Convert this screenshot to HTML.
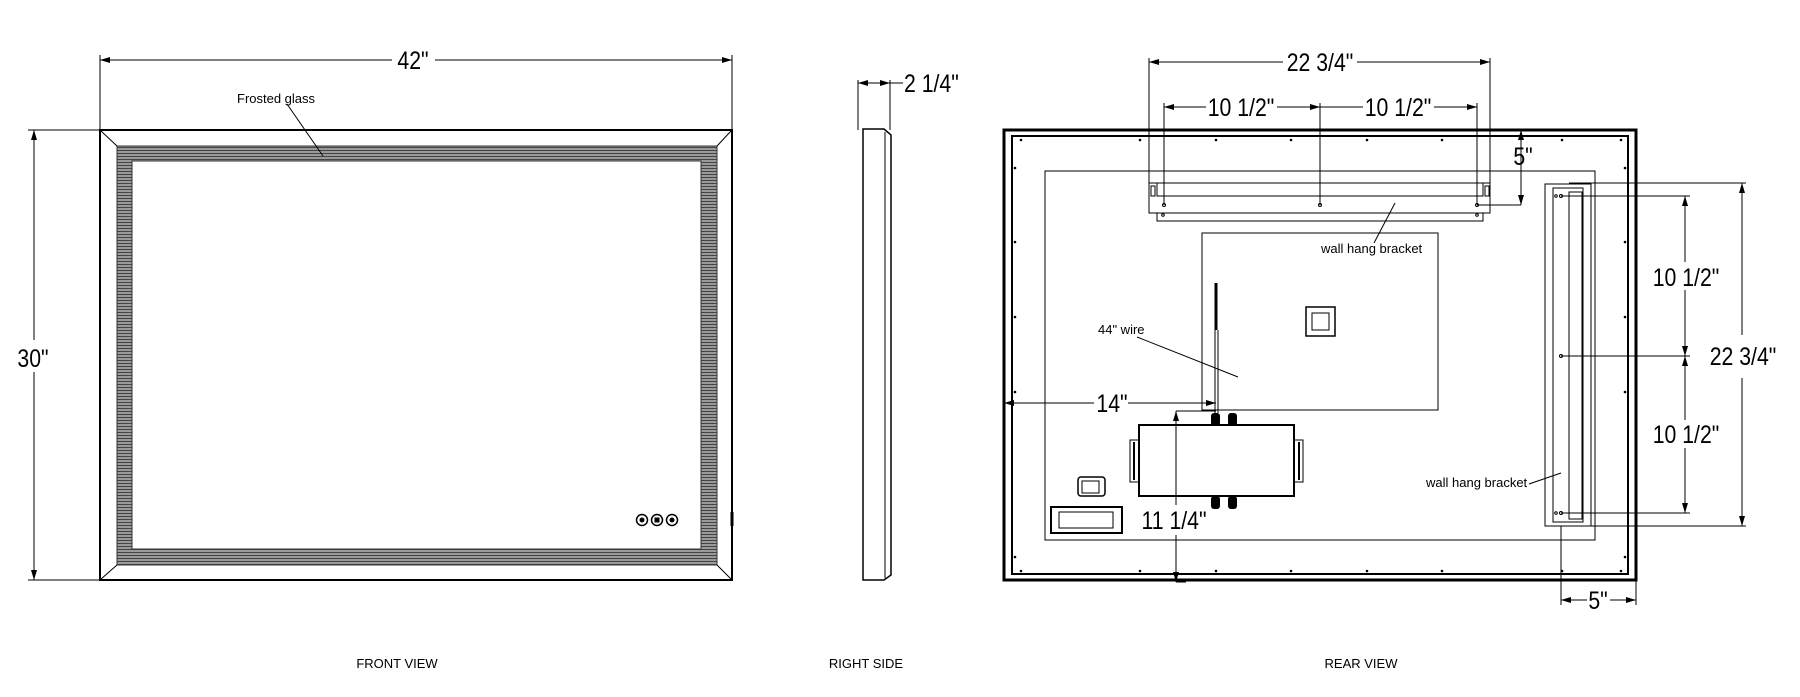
<!DOCTYPE html>
<html><head><meta charset="utf-8"><style>body{margin:0;background:#fff}svg{display:block}text{font-family:"Liberation Sans",sans-serif;fill:#000}</style></head>
<body>
<svg width="1800" height="697" viewBox="0 0 1800 697" xmlns="http://www.w3.org/2000/svg">
<defs>
<marker id="a" viewBox="0 0 10 6" refX="10" refY="3" markerWidth="10" markerHeight="6" orient="auto-start-reverse" markerUnits="userSpaceOnUse"><path d="M0,0L10,3L0,6z" fill="#000"/></marker>
<pattern id="h" width="4" height="3" patternUnits="userSpaceOnUse"><rect width="4" height="3" fill="#9a9a9a"/><rect width="4" height="1" fill="#444"/></pattern>
</defs>
<g stroke="#000" fill="none" stroke-width="1">
<line x1="100" y1="55" x2="100" y2="130"/><line x1="732" y1="55" x2="732" y2="130"/>
<line x1="100" y1="60" x2="392" y2="60" marker-start="url(#a)"/><line x1="435" y1="60" x2="732" y2="60" marker-end="url(#a)"/>
<line x1="28" y1="130" x2="100" y2="130"/><line x1="28" y1="580" x2="100" y2="580"/>
<line x1="34" y1="130" x2="34" y2="340" marker-start="url(#a)"/><line x1="34" y1="372" x2="34" y2="580" marker-end="url(#a)"/>
<rect x="100" y="130" width="632" height="450" stroke-width="2"/>
<path d="M117 146H717V565H117Z M132 161V549H701V161Z" fill="url(#h)" fill-rule="evenodd" stroke="#333"/>
<line x1="101" y1="131" x2="117" y2="146"/><line x1="731" y1="131" x2="717" y2="146"/><line x1="101" y1="579" x2="117" y2="565"/><line x1="731" y1="579" x2="717" y2="565"/>
<line x1="732" y1="512" x2="732" y2="526" stroke-width="3"/>
<line x1="287" y1="104" x2="323" y2="156"/>
<circle cx="642" cy="520" r="5.5" stroke-width="1.5"/><circle cx="657" cy="520" r="5.5" stroke-width="1.5"/><circle cx="672" cy="520" r="5.5" stroke-width="1.5"/>
<circle cx="642" cy="520" r="2" fill="#000"/><rect x="655" y="518" width="4" height="4" fill="#000"/><circle cx="672" cy="520" r="2" fill="#000"/>
<line x1="858" y1="80" x2="858" y2="130"/><line x1="890" y1="80" x2="890" y2="130"/>
<line x1="858" y1="83" x2="874" y2="83" marker-start="url(#a)"/><line x1="874" y1="83" x2="890" y2="83" marker-end="url(#a)"/><line x1="890" y1="83" x2="903" y2="83"/>
<path d="M863 129H884L891 135V575L884 580H863Z" stroke-width="1.5"/>
<line x1="885" y1="132" x2="885" y2="578"/>
<rect x="1004" y="130" width="632" height="450" stroke-width="3"/>
<rect x="1012" y="136" width="616" height="438" stroke-width="2"/>
<rect x="1045" y="171" width="550" height="369"/>
<g fill="#000" stroke="none">
<circle cx="1021" cy="140" r="1.3"/><circle cx="1140" cy="140" r="1.3"/><circle cx="1216" cy="140" r="1.3"/><circle cx="1291" cy="140" r="1.3"/><circle cx="1367" cy="140" r="1.3"/><circle cx="1442" cy="140" r="1.3"/><circle cx="1562" cy="140" r="1.3"/><circle cx="1621" cy="140" r="1.3"/>
<circle cx="1021" cy="571" r="1.3"/><circle cx="1140" cy="571" r="1.3"/><circle cx="1216" cy="571" r="1.3"/><circle cx="1291" cy="571" r="1.3"/><circle cx="1367" cy="571" r="1.3"/><circle cx="1442" cy="571" r="1.3"/><circle cx="1562" cy="571" r="1.3"/><circle cx="1621" cy="571" r="1.3"/>
<circle cx="1015" cy="168" r="1.3"/><circle cx="1015" cy="242" r="1.3"/><circle cx="1015" cy="317" r="1.3"/><circle cx="1015" cy="392" r="1.3"/><circle cx="1015" cy="557" r="1.3"/>
<circle cx="1625" cy="168" r="1.3"/><circle cx="1625" cy="242" r="1.3"/><circle cx="1625" cy="317" r="1.3"/><circle cx="1625" cy="392" r="1.3"/><circle cx="1625" cy="557" r="1.3"/>
</g>
<rect x="1149" y="183" width="341" height="30"/><rect x="1157" y="183" width="326" height="13"/><rect x="1157" y="213" width="326" height="8"/>
<rect x="1151" y="186" width="4" height="10"/><rect x="1485" y="186" width="4" height="10"/>
<circle cx="1164" cy="205" r="1.5"/><circle cx="1320" cy="205" r="1.5"/><circle cx="1477" cy="205" r="1.5"/><circle cx="1163" cy="215" r="1.3"/><circle cx="1477" cy="215" r="1.3"/>
<line x1="1149" y1="58" x2="1149" y2="183"/><line x1="1490" y1="58" x2="1490" y2="183"/>
<line x1="1149" y1="62" x2="1283" y2="62" marker-start="url(#a)"/><line x1="1357" y1="62" x2="1490" y2="62" marker-end="url(#a)"/>
<line x1="1164" y1="103" x2="1164" y2="205"/><line x1="1320" y1="103" x2="1320" y2="205"/><line x1="1477" y1="103" x2="1477" y2="205"/>
<line x1="1164" y1="107" x2="1206" y2="107" marker-start="url(#a)"/><line x1="1277" y1="107" x2="1320" y2="107" marker-end="url(#a)"/>
<line x1="1320" y1="107" x2="1363" y2="107"/><line x1="1434" y1="107" x2="1477" y2="107" marker-end="url(#a)"/>
<line x1="1521" y1="130" x2="1521" y2="205" marker-start="url(#a)" marker-end="url(#a)"/><line x1="1477" y1="205" x2="1521" y2="205"/>
<rect x="1202" y="233" width="236" height="177"/>
<rect x="1306" y="307" width="29" height="29" stroke-width="1.5"/><rect x="1312" y="313" width="17" height="17"/>
<line x1="1395" y1="203" x2="1374" y2="243"/>
<line x1="1216" y1="283" x2="1216" y2="330" stroke-width="3"/><line x1="1215" y1="330" x2="1215" y2="413"/><line x1="1218" y1="330" x2="1218" y2="413"/>
<line x1="1137" y1="337" x2="1238" y2="377"/>
<line x1="1004" y1="403" x2="1094" y2="403" marker-start="url(#a)"/><line x1="1128" y1="403" x2="1216" y2="403" marker-end="url(#a)"/>
<rect x="1139" y="425" width="155" height="71" stroke-width="2"/>
<rect x="1130" y="440" width="9" height="42"/><rect x="1294" y="440" width="9" height="42"/>
<line x1="1134" y1="442" x2="1134" y2="480" stroke-width="2"/><line x1="1299" y1="442" x2="1299" y2="480" stroke-width="2"/>
<g fill="#000" stroke="none"><rect x="1211" y="413" width="9" height="13" rx="3"/><rect x="1228" y="413" width="9" height="13" rx="3"/><rect x="1211" y="496" width="9" height="13" rx="3"/><rect x="1228" y="496" width="9" height="13" rx="3"/></g>
<line x1="1176" y1="411" x2="1216" y2="411"/>
<line x1="1176" y1="411" x2="1176" y2="505" marker-start="url(#a)"/><line x1="1176" y1="535" x2="1176" y2="582" marker-end="url(#a)"/><line x1="1176" y1="582" x2="1186" y2="582"/>
<rect x="1078" y="477" width="27" height="19" rx="3" stroke-width="1.5"/><rect x="1082" y="481" width="17" height="12"/>
<rect x="1051" y="507" width="71" height="26" stroke-width="2"/><rect x="1059" y="512" width="54" height="16"/>
<line x1="1004" y1="512" x2="1004" y2="526" stroke-width="3"/>
<rect x="1545" y="184" width="46" height="342"/><rect x="1553" y="188" width="30" height="334"/><rect x="1569" y="192" width="13" height="327"/>
<circle cx="1561" cy="196" r="1.5"/><circle cx="1561" cy="356" r="1.5"/><circle cx="1561" cy="513" r="1.5"/><circle cx="1556" cy="196" r="1.3"/><circle cx="1556" cy="513" r="1.3"/>
<line x1="1569" y1="183" x2="1746" y2="183"/><line x1="1569" y1="526" x2="1746" y2="526"/>
<line x1="1561" y1="196" x2="1690" y2="196"/><line x1="1561" y1="356" x2="1690" y2="356"/><line x1="1561" y1="513" x2="1690" y2="513"/>
<line x1="1742" y1="183" x2="1742" y2="335" marker-start="url(#a)"/><line x1="1742" y1="378" x2="1742" y2="526" marker-end="url(#a)"/>
<line x1="1685" y1="196" x2="1685" y2="262" marker-start="url(#a)"/><line x1="1685" y1="290" x2="1685" y2="356" marker-end="url(#a)"/>
<line x1="1685" y1="356" x2="1685" y2="420" marker-start="url(#a)"/><line x1="1685" y1="448" x2="1685" y2="513" marker-end="url(#a)"/>
<line x1="1529" y1="484" x2="1561" y2="473"/>
<line x1="1561" y1="526" x2="1561" y2="605"/><line x1="1636" y1="580" x2="1636" y2="605"/>
<line x1="1561" y1="600" x2="1587" y2="600" marker-start="url(#a)"/><line x1="1610" y1="600" x2="1636" y2="600" marker-end="url(#a)"/>
</g>
<g font-size="25" text-anchor="middle">
<text transform="translate(413,69) scale(0.85,1)">42"</text>
<text transform="translate(33,367) scale(0.85,1)">30"</text>
<text transform="translate(904,92) scale(0.85,1)" text-anchor="start">2 1/4"</text>
<text transform="translate(1320,71) scale(0.85,1)">22 3/4"</text>
<text transform="translate(1241,116) scale(0.85,1)">10 1/2"</text>
<text transform="translate(1398,116) scale(0.85,1)">10 1/2"</text>
<text transform="translate(1523,165) scale(0.85,1)">5"</text>
<text transform="translate(1112,412) scale(0.85,1)">14"</text>
<text transform="translate(1174,529) scale(0.85,1)">11 1/4"</text>
<text transform="translate(1686,286) scale(0.85,1)">10 1/2"</text>
<text transform="translate(1686,443) scale(0.85,1)">10 1/2"</text>
<text transform="translate(1743,365) scale(0.85,1)">22 3/4"</text>
<text transform="translate(1598,609) scale(0.85,1)">5"</text>
</g>
<g font-size="13">
<text x="237" y="103">Frosted glass</text>
<text x="1321" y="253">wall hang bracket</text>
<text x="1098" y="334">44" wire</text>
<text x="1426" y="487">wall hang bracket</text>
<text x="397" y="668" text-anchor="middle">FRONT VIEW</text>
<text x="866" y="668" text-anchor="middle">RIGHT SIDE</text>
<text x="1361" y="668" text-anchor="middle">REAR VIEW</text>
</g>
</svg>
</body></html>
